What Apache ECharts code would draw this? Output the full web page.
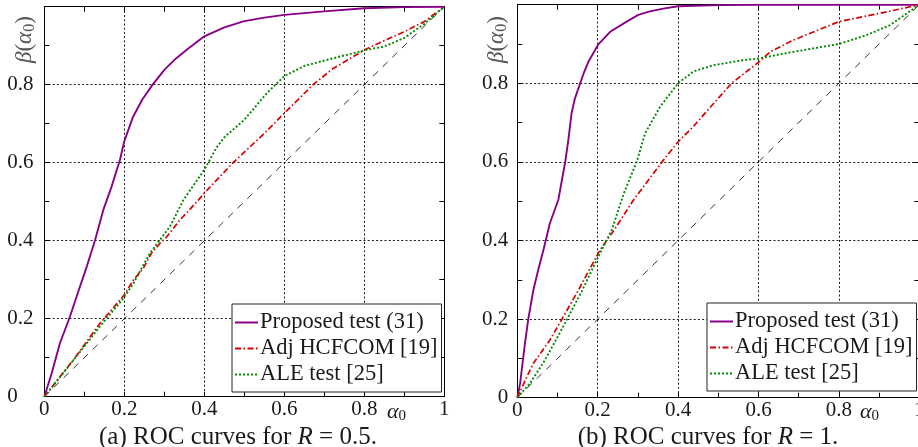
<!DOCTYPE html>
<html>
<head>
<meta charset="utf-8">
<script src="https://cdn.jsdelivr.net/npm/echarts@6/dist/echarts.min.js"></script>
<style>html,body{margin:0;padding:0;background:#fff}#c{width:918px;height:447px}</style>
</head>
<body>
<div id="c"></div>
<script>
// ---- Data ----
var seriesNames = ['Proposed test (31)', 'Adj HCFCOM [19]', 'ALE test [25]'];
var diagX = [0, 1];
var diagY = [0, 1];

// (a) R = 0.5
var propA_x = [0, 0.0185, 0.039, 0.064, 0.089, 0.106, 0.127, 0.1475, 0.168, 0.189, 0.20, 0.222, 0.245, 0.27, 0.30, 0.33, 0.36, 0.40, 0.45, 0.50, 0.55, 0.60, 0.70, 0.80, 0.90, 1.0];
var propA_y = [0, 0.06, 0.137, 0.205, 0.282, 0.333, 0.402, 0.479, 0.538, 0.607, 0.655, 0.718, 0.762, 0.799, 0.838, 0.868, 0.893, 0.924, 0.947, 0.963, 0.972, 0.979, 0.988, 0.996, 0.999, 1.0];
var adjA_x = [0, 0.0725, 0.139, 0.20, 0.2225, 0.2475, 0.268, 0.289, 0.306, 0.339, 0.385, 0.40, 0.472, 0.50, 0.55, 0.60, 0.672, 0.72, 0.80, 0.85, 0.90, 0.95, 1.0];
var adjA_y = [0, 0.094, 0.188, 0.261, 0.299, 0.329, 0.368, 0.393, 0.41, 0.453, 0.504, 0.522, 0.60, 0.627, 0.675, 0.727, 0.80, 0.84, 0.889, 0.913, 0.936, 0.962, 1.0];
var aleA_x = [0, 0.07, 0.139, 0.1975, 0.2225, 0.264, 0.289, 0.314, 0.3475, 0.40, 0.43, 0.45, 0.50, 0.556, 0.60, 0.65, 0.70, 0.75, 0.80, 0.85, 0.90, 0.95, 1.0];
var aleA_y = [0, 0.09, 0.18, 0.252, 0.29, 0.368, 0.402, 0.436, 0.504, 0.582, 0.638, 0.665, 0.71, 0.778, 0.822, 0.848, 0.862, 0.875, 0.888, 0.898, 0.92, 0.956, 1.0];

// (b) R = 1
var propB_x = [0, 0.004, 0.007, 0.011, 0.018, 0.027, 0.04, 0.052, 0.065, 0.081, 0.102, 0.119, 0.127, 0.135, 0.143, 0.152, 0.165, 0.177, 0.2015, 0.231, 0.272, 0.301, 0.33, 0.363, 0.40, 0.50, 0.60, 0.80, 1.0];
var propB_y = [0, 0.02, 0.037, 0.07, 0.13, 0.198, 0.274, 0.325, 0.376, 0.444, 0.503, 0.599, 0.656, 0.724, 0.76, 0.787, 0.825, 0.855, 0.899, 0.931, 0.957, 0.974, 0.983, 0.99, 0.996, 0.999, 1.0, 1.0, 1.0];
var adjB_x = [0, 0.02, 0.04, 0.08, 0.11, 0.15, 0.206, 0.241, 0.289, 0.36, 0.40, 0.438, 0.467, 0.533, 0.602, 0.629, 0.687, 0.80, 0.92, 1.0];
var adjB_y = [0, 0.045, 0.0875, 0.145, 0.198, 0.27, 0.376, 0.427, 0.503, 0.60, 0.651, 0.69, 0.724, 0.80, 0.855, 0.88, 0.91, 0.957, 0.982, 1.0];
var aleB_x = [0, 0.032, 0.069, 0.123, 0.16, 0.1975, 0.235, 0.265, 0.297, 0.318, 0.355, 0.40, 0.438, 0.488, 0.562, 0.60, 0.687, 0.80, 0.87, 0.927, 1.0];
var aleB_y = [0, 0.037, 0.096, 0.198, 0.27, 0.35, 0.427, 0.52, 0.60, 0.673, 0.74, 0.80, 0.83, 0.846, 0.859, 0.863, 0.88, 0.90, 0.923, 0.948, 1.0];

// ---- Build ----
function zip(xs, ys) { return xs.map(function (x, i) { return [x, ys[i]]; }); }
var FONT = '"Liberation Serif", "DejaVu Serif", serif';
var TXT = '#1a1a1a';
var COL_P = '#880088', COL_R = '#d80000', COL_G = '#008a00';

function tenth(v) { return Math.round(v * 10); }
function fmtY(v) { var t = tenth(v); return (t % 2 !== 0 || t === 10) ? '' : String(t / 10); }
function fmtX(v) { var t = tenth(v); return (t % 2 !== 0) ? '' : String(t / 10); }

var grids = [
  { left: 44.3, top: 6.7, width: 400, height: 390, containLabel: false, outerBoundsMode: 'none' },
  { left: 517.3, top: 4.7, width: 402, height: 393, containLabel: false, outerBoundsMode: 'none' }
];
var xAxes = [], yAxes = [];
var tickStyle = { show: true, inside: true, length: 5, lineStyle: { color: '#000', width: 1 } };
var splitStyle = { show: true, showMinLine: true, showMaxLine: true,
  lineStyle: { color: ['#000', 'rgba(0,0,0,0)'], width: 0.9, type: [2, 2.2] } };
var lineS = { show: true, onZero: false, lineStyle: { color: '#000', width: 1 } };
[0, 1].forEach(function (g) {
  xAxes.push({
    gridIndex: g, type: 'value', min: 0, max: 1, interval: 0.1, position: 'bottom',
    axisLine: lineS, axisTick: tickStyle, splitLine: splitStyle,
    axisLabel: { show: true, margin: 2, fontFamily: FONT, fontSize: 21, color: TXT, formatter: fmtX, showMaxLabel: true, showMinLabel: true }
  });
  xAxes.push({
    gridIndex: g, type: 'value', min: 0, max: 1, interval: 0.1, position: 'top',
    axisLine: lineS, axisTick: tickStyle, splitLine: { show: false }, axisLabel: { show: false }
  });
  yAxes.push({
    gridIndex: g, type: 'value', min: 0, max: 1, interval: 0.1, position: 'left',
    axisLine: lineS, axisTick: tickStyle, splitLine: splitStyle,
    axisLabel: g === 0
      ? { show: true, align: 'left', margin: 37, fontFamily: FONT, fontSize: 21, color: TXT, formatter: fmtY }
      : { show: true, align: 'right', margin: 9, fontFamily: FONT, fontSize: 21, color: TXT, formatter: fmtY }
  });
  yAxes.push({
    gridIndex: g, type: 'value', min: 0, max: 1, interval: 0.1, position: 'right',
    axisLine: lineS, axisTick: tickStyle, splitLine: { show: false }, axisLabel: { show: false }
  });
});

function lineSeries(name, g, data, color, width, type) {
  return {
    name: name, type: 'line', xAxisIndex: g * 2, yAxisIndex: g * 2, data: data,
    showSymbol: false, symbol: 'none', smooth: false, silent: true,
    lineStyle: { color: color, width: width, type: type, join: 'round', cap: 'butt' },
    itemStyle: { color: color }, z: 3
  };
}
var series = [];
var sets = [
  [propA_x, propA_y, adjA_x, adjA_y, aleA_x, aleA_y],
  [propB_x, propB_y, adjB_x, adjB_y, aleB_x, aleB_y]
];
sets.forEach(function (s, g) {
  series.push(lineSeries('diag' + g, g, zip(diagX, diagY), '#000', 0.8, [7, 6.5]));
  series.push(lineSeries(seriesNames[0], g, zip(s[0], s[1]), COL_P, 1.9, 'solid'));
  series.push(lineSeries(seriesNames[1], g, zip(s[2], s[3]), COL_R, 1.7, [6, 2.5, 1.5, 2.5]));
  series.push(lineSeries(seriesNames[2], g, zip(s[4], s[5]), COL_G, 1.9, [2, 2]));
});

function legendAt(left, top) {
  return {
    data: seriesNames, orient: 'vertical', left: left, top: top,
    padding: [7, 4, 6, 2], itemGap: 3, itemWidth: 23, itemHeight: 12,
    backgroundColor: '#fff', borderColor: '#222', borderWidth: 1, borderRadius: 0,
    selectedMode: false,
    itemStyle: { opacity: 0, color: 'rgba(0,0,0,0)', borderWidth: 0 },
    textStyle: { fontFamily: FONT, fontSize: 22.5, color: TXT, padding: [0, 0, 0, -3] }
  };
}

function mathLabel(x, y, rot, align, pre, main, sub, tail, color, size) {
  var r = {
    u: { fontFamily: FONT, fontSize: size, fill: color, color: color },
    m: { fontFamily: FONT, fontSize: size, fontStyle: 'italic', fill: color, color: color },
    s: { fontFamily: FONT, fontSize: Math.round(size * 0.68), fill: color, color: color, padding: [9, 0, 0, 0] }
  };
  var txt = (pre ? '{m|' + pre + '}{u|(}' : '') + '{m|' + main + '}{s|' + sub + '}' + (tail ? '{u|' + tail + '}' : '');
  return {
    type: 'text', x: x, y: y, rotation: rot, z: 10,
    style: { text: txt, align: align, verticalAlign: 'middle', rich: r }
  };
}
function caption(x, y, pre, it, post) {
  return {
    type: 'text', x: x, y: y, z: 10,
    style: {
      text: '{n|' + pre + '}{i|' + it + '}{n|' + post + '}',
      align: 'center', verticalAlign: 'middle',
      rich: {
        n: { fontFamily: FONT, fontSize: 25, fill: TXT, color: TXT },
        i: { fontFamily: FONT, fontSize: 25, fontStyle: 'italic', fill: TXT, color: TXT }
      }
    }
  };
}

var chart = echarts.init(document.getElementById('c'), null, { renderer: 'canvas' });
chart.setOption({
  animation: false,
  backgroundColor: '#fff',
  grid: grids,
  xAxis: xAxes,
  yAxis: yAxes,
  legend: [legendAt(232, 304), legendAt(707, 303)],
  series: series,
  graphic: [
    mathLabel(387, 412, 0, 'left', '', 'α', '0', '', TXT, 22),
    mathLabel(860, 412, 0, 'left', '', 'α', '0', '', TXT, 22),
    mathLabel(25, 63, Math.PI / 2, 'left', 'β', 'α', '0', ')', '#555', 23),
    mathLabel(497, 63, Math.PI / 2, 'left', 'β', 'α', '0', ')', '#555', 23),
    caption(238, 437, '(a) ROC curves for ', 'R', ' = 0.5.'),
    caption(708, 437, '(b) ROC curves for ', 'R', ' = 1.')
  ]
});
</script>
</body>
</html>
